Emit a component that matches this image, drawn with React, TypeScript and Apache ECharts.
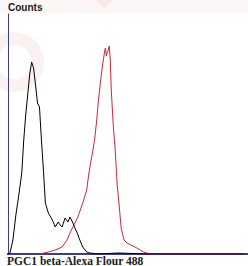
import React, { useEffect, useRef } from "react";
import * as echarts from "echarts";

const blackChannels = [0, 2, 5, 8, 11, 14, 16, 18, 20, 22, 24, 25, 26, 28, 30, 32, 34, 36, 38, 41, 44, 46, 48, 51, 53, 55, 58, 61, 63, 66, 68, 70, 73, 76, 80, 83, 92, 112, 142, 192, 240];
const blackCounts = [0, 1, 14, 39, 59, 81, 114, 139, 159, 179, 192, 189, 186, 169, 151, 147, 114, 84, 51, 41, 36, 32, 27, 32, 29, 27, 36, 32, 37, 31, 26, 22, 14, 7, 2, 1, 0, 1, 0, 0, 0];

const redChannels = [32, 41, 48, 55, 60, 63, 66, 71, 76, 80, 82, 84, 86, 88, 90, 92, 94, 96, 98, 99, 100, 101, 102, 103, 104, 105, 107, 109, 111, 113, 115, 118, 121, 125, 131, 138, 144, 162, 240];
const redCounts = [0, 2, 4, 7, 14, 21, 27, 37, 51, 64, 79, 91, 102, 114, 132, 154, 172, 188, 201, 206, 198, 202, 204, 208, 194, 164, 129, 104, 69, 49, 26, 14, 11, 9, 6, 2, 0, 0, 0];

const yTitle = "Counts";
const xTitle = "PGC1 beta-Alexa Flour 488";

const zip = (xs: number[], ys: number[]) => xs.map((x, i) => [x, ys[i]]);

export default function App() {
  const ref = useRef<HTMLDivElement>(null);
  useEffect(() => {
    if (!ref.current) return;
    const chart = echarts.init(ref.current, null, { renderer: "svg" });
    const navy = "#3b3b8f";
    chart.setOption({
      animation: false,
      backgroundColor: "#ffffff",
      grid: { left: 8, right: -4, top: 14, bottom: 12, containLabel: false },
      xAxis: [
        {
          type: "value", min: 0, max: 244, position: "bottom",
          axisLine: { show: true, onZero: false, lineStyle: { color: navy, width: 2 } },
          axisTick: { show: false }, axisLabel: { show: false }, splitLine: { show: false },
        },
        {
          type: "value", min: 0, max: 244, position: "top",
          axisLine: { show: true, lineStyle: { color: navy, width: 2 } },
          axisTick: { show: false }, axisLabel: { show: false }, splitLine: { show: false },
        },
      ],
      yAxis: {
        type: "value", min: 0, max: 240,
        axisLine: { show: true, lineStyle: { color: navy, width: 1 } },
        axisTick: { show: false }, axisLabel: { show: false }, splitLine: { show: false },
      },
      graphic: [
        { type: "rect", z: -10, shape: { x: 0, y: 0, width: 248, height: 13 }, style: { fill: "#fdf6f7" } },
        { type: "ring", z: -5, shape: { cx: 14, cy: 62, r: 30, r0: 17 }, style: { fill: "rgba(225,120,130,0.10)" } },
        { type: "rect", z: -5, x: 48, y: 0, rotation: Math.PI / 4, originX: 48, originY: 0, shape: { x: 48, y: -8, width: 70, height: 20 }, style: { fill: "rgba(225,120,130,0.10)" } },
        { type: "text", left: 8, top: 2, style: { text: yTitle, font: "bold 10px 'Liberation Sans', sans-serif", fill: "#1a1a1a" } },
        { type: "text", left: 7, top: 255, style: { text: xTitle, font: "bold 11.5px 'Liberation Serif', serif", fill: "#1a1a1a" } },
      ],
      series: [
        {
          type: "line", data: zip(blackChannels, blackCounts), showSymbol: false, symbol: "none",
          lineStyle: { color: "#000000", width: 1 }, z: 3,
        },
        {
          type: "line", data: zip(redChannels, redCounts), showSymbol: false, symbol: "none",
          lineStyle: { color: "#cc2a32", width: 1 }, z: 2,
        },
      ],
    });
    return () => chart.dispose();
  }, []);
  return <div ref={ref} style={{ position: "fixed", left: 0, top: 0, width: 248, height: 266 }} />;
}
